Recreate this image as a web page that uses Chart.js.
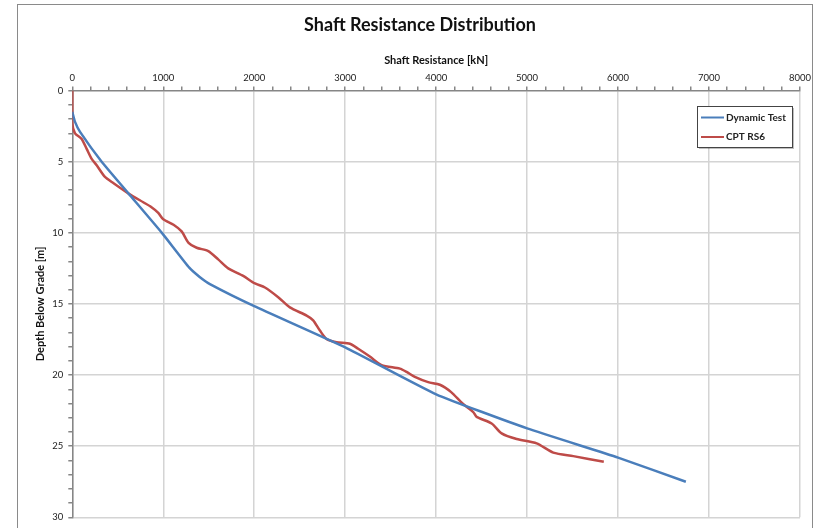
<!DOCTYPE html>
<html>
<head>
<meta charset="utf-8">
<script src="https://cdn.jsdelivr.net/npm/chart.js@4/dist/chart.umd.min.js"></script>
<style>
  html, body { margin: 0; padding: 0; background: #fff; }
  #wrap { width: 823px; height: 528px; }
</style>
</head>
<body>
<div id="wrap"><canvas id="shaftChart" width="823" height="528"></canvas></div>
<script>
// series names
var seriesNames = ["Dynamic Test", "CPT RS6"];

// Dynamic Test: force [kN] vs depth [m]
var dynForce = [0, 30, 85, 323, 619, 985, 1286, 1400, 1513, 2000, 3000, 4000, 5000, 6000, 6745];
var dynDepth = [1.5, 2.2, 2.9, 5.0, 7.24, 10.0, 12.45, 13.1, 13.6, 15.15, 18.05, 21.35, 23.75, 25.8, 27.5];

// CPT RS6: force [kN] vs depth [m]
var cptForce = [0, 0, 30, 103, 158, 213, 268, 359, 451, 619, 780, 860, 945, 1000, 1113, 1202, 1278, 1367,
  1495, 1604, 1714, 1879, 2008, 2118, 2267, 2392, 2576, 2648, 2722, 2795, 2905, 3052, 3143, 3271, 3400,
  3601, 3675, 3766, 3912, 4041, 4165, 4290, 4408, 4445, 4610, 4720, 4885, 5105, 5288, 5508, 5843];
var cptDepth = [0, 2.3, 3.0, 3.4, 4.1, 4.8, 5.25, 6.07, 6.5, 7.24, 7.85, 8.15, 8.6, 9.05, 9.43, 9.9, 10.7, 11.05,
  11.28, 11.87, 12.5, 13.03, 13.56, 13.84, 14.54, 15.24, 15.82, 16.15, 16.87, 17.46, 17.69, 17.8, 18.15, 18.7, 19.3,
  19.55, 19.78, 20.13, 20.5, 20.68, 21.2, 22.0, 22.6, 22.94, 23.4, 24.1, 24.5, 24.8, 25.45, 25.7, 26.1];

// axis ranges / tick steps
var forceRange = [0, 8000];
var forceMajor = 1000, forceMinor = 200;
var depthRange = [0, 30];
var depthMajor = 5, depthMinor = 1;

function toPoints(xs, ys) {
  var pts = [];
  for (var i = 0; i < xs.length; i++) pts.push({ x: xs[i], y: ys[i] });
  return pts;
}

var blue = "#4a7ebb";
var red = "#be4b48";
var FONT = "Lato, 'Open Sans', sans-serif";

// white background + outer frame
var framePlugin = {
  id: "frame",
  beforeDraw: function (chart) {
    var c = chart.ctx;
    c.save();
    c.fillStyle = "#fff";
    c.fillRect(0, 0, chart.width, chart.height);
    c.strokeStyle = "#8a8a8a";
    c.lineWidth = 1;
    c.strokeRect(17.5, 4.5, 795, 600);
    c.restore();
  }
};

// legend box inside the plot, top right
var legendBox = {
  id: "legendBox",
  afterDraw: function (chart) {
    var c = chart.ctx;
    var x = 697, y = 106, w = 95, h = 41;
    c.save();
    c.fillStyle = "rgba(0,0,0,0.25)";
    c.fillRect(x + 2, y + 2, w, h);
    c.fillStyle = "#fff";
    c.fillRect(x, y, w, h);
    c.strokeStyle = "#444";
    c.lineWidth = 1;
    c.strokeRect(x + 0.5, y + 0.5, w, h);
    c.font = "bold 10px " + FONT;
    c.textBaseline = "middle";
    chart.data.datasets.forEach(function (ds, i) {
      var ly = y + 11.5 + i * 19.5;
      c.strokeStyle = ds.borderColor;
      c.lineWidth = 2;
      c.beginPath();
      c.moveTo(x + 4, ly);
      c.lineTo(x + 27, ly);
      c.stroke();
      c.fillStyle = "#222";
      c.fillText(ds.label, x + 29, ly);
    });
    c.restore();
  }
};

var ctx = document.getElementById("shaftChart").getContext("2d");
var shaftChart = new Chart(ctx, {
  type: "scatter",
  data: {
    datasets: [{
      label: seriesNames[0],
      data: toPoints(dynForce, dynDepth),
      showLine: true,
      borderColor: blue,
      backgroundColor: blue,
      borderWidth: 2.5,
      pointRadius: 0,
      tension: 0.15
    }, {
      label: seriesNames[1],
      data: toPoints(cptForce, cptDepth),
      showLine: true,
      borderColor: red,
      backgroundColor: red,
      borderWidth: 2.5,
      pointRadius: 0,
      tension: 0.25
    }]
  },
  options: {
    responsive: false,
    animation: false,
    // left padding pushes the title centre to the right, y axis keeps its place via afterFit
    layout: { padding: { left: 40, right: 23, top: 0, bottom: 7 } },
    plugins: {
      legend: { display: false },
      tooltip: { enabled: false },
      title: {
        display: true,
        text: "Shaft Resistance Distribution",
        color: "#111",
        font: { family: FONT, size: 18, weight: "bold" },
        padding: { top: 14, bottom: 9 }
      }
    },
    scales: {
      x: {
        type: "linear",
        position: "top",
        min: forceRange[0],
        max: forceRange[1],
        afterFit: function (s) { s.height = 46; },
        title: {
          display: true,
          text: "Shaft Resistance [kN]",
          color: "#111",
          font: { family: FONT, size: 11, weight: "bold" },
          padding: { top: 9, bottom: 0 }
        },
        ticks: {
          stepSize: forceMinor,
          autoSkip: false,
          maxRotation: 0,
          padding: 3,
          color: "#222",
          font: { family: FONT, size: 9.5 },
          callback: function (v) { return v % forceMajor === 0 ? v : ""; }
        },
        grid: {
          color: function (c) { return c.tick && c.tick.value % forceMajor === 0 ? "#d4d4d4" : "rgba(0,0,0,0)"; },
          tickColor: "#868686",
          tickLength: 4,
          lineWidth: 1.5
        },
        border: { color: "#868686", width: 1.5 }
      },
      y: {
        type: "linear",
        reverse: true,
        min: depthRange[0],
        max: depthRange[1],
        afterFit: function (s) { s.width = 32.3; },
        title: {
          display: true,
          text: "Depth Below Grade [m]",
          color: "#111",
          font: { family: FONT, size: 11, weight: "bold" },
          padding: { top: -6.5, bottom: 0 }
        },
        ticks: {
          stepSize: depthMinor,
          autoSkip: false,
          padding: 5,
          color: "#222",
          font: { family: FONT, size: 9.5 },
          callback: function (v) { return v % depthMajor === 0 ? v : ""; }
        },
        grid: {
          color: function (c) { return c.tick && c.tick.value % depthMajor === 0 && c.tick.value !== 0 ? "#d4d4d4" : "rgba(0,0,0,0)"; },
          tickColor: "#868686",
          tickLength: 4,
          lineWidth: 1.5
        },
        border: { color: "#868686", width: 1.5 }
      }
    }
  },
  plugins: [framePlugin, legendBox]
});
</script>
</body>
</html>
